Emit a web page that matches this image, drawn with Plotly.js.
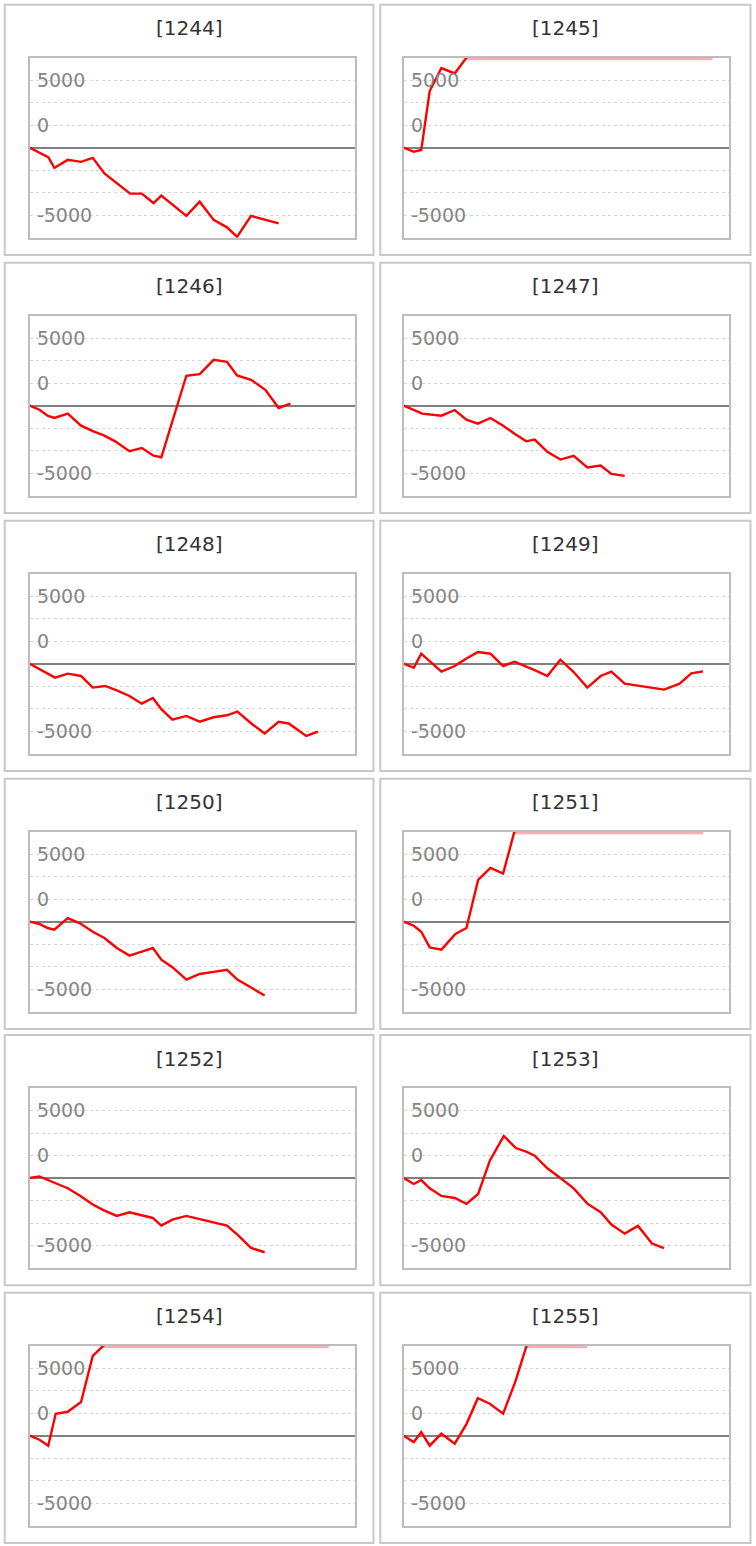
<!DOCTYPE html>
<html><head><meta charset="utf-8">
<script src="https://cdn.plot.ly/plotly-3.0.1.min.js"></script>
<style>html,body{margin:0;padding:0;background:#fff;} #chart{width:756px;height:1546px;}</style>
</head><body><div id="chart"></div>
<script>
// Panel names
const codes = ['1244','1245','1246','1247','1248','1249','1250','1251','1252','1253','1254','1255'];

// Y axis ticks (gridlines) and labels as drawn in the reference
const tickValues = [-5000, -3333.33, -1666.67, 0, 1666.67, 3333.33, 5000];
const tickLabels = ['-5000', '', '', '', '0', '', '5000'];
const yLow = -6666.67, yHigh = 6666.67;

// Series values (x = position along period, 0..100)
const x1244 = [0, 5.7, 7.6, 11.7, 15.8, 19.4, 23.0, 26.8, 30.9, 34.5, 38.1, 40.5, 44.3, 48.2, 52.3, 56.6, 60.7, 63.8, 68.1, 76.6];
const y1244 = [0, -700, -1500, -900, -1050, -750, -1900, -2650, -3400, -3400, -4100, -3550, -4300, -5050, -4000, -5350, -5900, -6600, -5050, -5600];

const x1245 = [0, 3.1, 5.4, 8.0, 11.6, 15.7, 22.8, 34.1, 48.2, 68.0, 95.0];
const y1245 = [0, -300, -170, 4200, 5900, 5500, 7800, 9200, 10400, 11600, 12500];

const x1246 = [0, 3.0, 5.5, 7.6, 11.7, 15.8, 19.6, 23.0, 26.3, 30.7, 34.5, 38.1, 40.5, 44.3, 48.2, 52.3, 56.6, 60.7, 63.8, 68.1, 72.5, 76.6, 80.2];
const y1246 = [0, -300, -740, -910, -590, -1480, -1900, -2220, -2640, -3370, -3130, -3700, -3820, -840, 2220, 2340, 3400, 3250, 2240, 1920, 1180, -170, 150];

const x1247 = [0, 2.4, 5.7, 11.6, 15.7, 19.3, 22.8, 26.7, 30.6, 34.1, 37.7, 40.3, 44.2, 48.2, 52.3, 56.5, 60.6, 63.9, 68.0];
const y1247 = [0, -250, -590, -740, -320, -1030, -1330, -910, -1480, -2070, -2640, -2510, -3420, -3990, -3720, -4580, -4430, -5050, -5200];

const x1248 = [0, 7.8, 11.7, 15.8, 19.4, 23.2, 26.8, 30.7, 34.5, 37.9, 40.5, 43.9, 48.2, 52.3, 56.6, 60.7, 63.9, 68.1, 72.3, 76.6, 79.7, 85.1, 88.7];
const y1248 = [0, -1030, -740, -910, -1770, -1650, -1970, -2390, -2960, -2540, -3370, -4140, -3870, -4290, -3970, -3820, -3550, -4410, -5170, -4310, -4430, -5350, -5030];

const x1249 = [0, 3.1, 5.4, 11.6, 15.7, 19.3, 22.8, 26.7, 30.6, 34.1, 37.7, 40.3, 44.2, 48.2, 52.3, 56.5, 60.6, 63.9, 68.0, 80.1, 84.9, 88.5, 92.1];
const y1249 = [0, -300, 740, -590, -170, 390, 860, 740, -170, 150, -220, -470, -910, 300, -620, -1770, -910, -590, -1480, -1920, -1480, -710, -570];

const x1250 = [0, 3.0, 5.5, 7.6, 11.7, 15.5, 19.4, 23.0, 26.8, 30.7, 34.5, 37.9, 40.5, 43.9, 48.2, 52.3, 56.6, 60.7, 63.9, 68.1, 72.3];
const y1250 = [0, -170, -470, -590, 270, -120, -740, -1210, -1950, -2510, -2220, -1950, -2810, -3370, -4290, -3870, -3720, -3570, -4290, -4880, -5470];

const x1251 = [0, 3.1, 5.4, 8.0, 11.6, 15.9, 19.3, 22.9, 26.7, 30.6, 34.2, 44.2, 60.6, 76.4, 92.1];
const y1251 = [0, -300, -740, -1900, -2070, -910, -470, 3100, 3990, 3570, 6800, 8500, 9900, 11000, 11800];

const x1252 = [0, 3.0, 7.8, 11.7, 15.5, 19.4, 23.0, 26.8, 30.7, 34.5, 37.9, 40.5, 43.9, 48.2, 52.3, 56.6, 60.7, 63.9, 68.1, 72.3];
const y1252 = [0, 120, -370, -760, -1310, -1970, -2420, -2810, -2540, -2760, -2960, -3530, -3080, -2810, -3030, -3280, -3530, -4190, -5180, -5500];

const x1253 = [0, 3.1, 5.4, 8.0, 11.6, 15.7, 19.3, 22.9, 26.5, 30.8, 34.5, 37.7, 40.3, 44.2, 48.2, 52.3, 56.5, 60.6, 63.9, 68.0, 72.1, 76.4, 80.1];
const y1253 = [0, -440, -150, -760, -1330, -1480, -1920, -1180, 1280, 3110, 2220, 1950, 1650, 720, 0, -770, -1900, -2540, -3450, -4120, -3550, -4860, -5200];

const x1254 = [0, 3.0, 5.7, 8.0, 11.7, 15.8, 19.4, 23.0, 34.5, 48.2, 68.1, 92.0];
const y1254 = [0, -300, -740, 1630, 1770, 2490, 5910, 6750, 8200, 9400, 10500, 11200];

const x1255 = [0, 3.1, 5.4, 8.0, 11.6, 15.7, 19.3, 22.8, 26.5, 30.6, 34.4, 38.1, 44.2, 56.5];
const y1255 = [0, -470, 270, -740, 150, -590, 860, 2780, 2370, 1630, 4040, 6900, 8500, 9800];

const seriesX = [x1244, x1245, x1246, x1247, x1248, x1249, x1250, x1251, x1252, x1253, x1254, x1255];
const seriesY = [y1244, y1245, y1246, y1247, y1248, y1249, y1250, y1251, y1252, y1253, y1254, y1255];

// ---- layout geometry (pixels) ----
const W = 756, H = 1546;
const rowTops = [57.7, 315.7, 573.7, 831.7, 1088, 1345.7];
const colLefts = [29.7, 403.7];
const plotW = 325, plotH = 180;
const panelX = [[4.7, 373.5], [380.3, 750.5]];

// part of a series beyond the top of the axis, drawn along the top edge
function overflowPath(xs, ys, top) {
  const px = [], py = [];
  for (let k = 0; k < ys.length; k++) {
    if (ys[k] >= top) {
      if (k > 0 && ys[k-1] < top) {
        const t = (top - ys[k-1]) / (ys[k] - ys[k-1]);
        px.push(xs[k-1] + t * (xs[k] - xs[k-1])); py.push(top);
      }
      px.push(xs[k]); py.push(top);
    }
  }
  return [px, py];
}

const traces = [];
const layout = {
  width: W, height: H,
  margin: {l: 0, r: 0, t: 0, b: 0},
  paper_bgcolor: '#ffffff', plot_bgcolor: '#ffffff',
  showlegend: false,
  shapes: [], annotations: []
};

codes.forEach((code, i) => {
  const n = i === 0 ? '' : String(i + 1);
  const row = Math.floor(i / 2), col = i % 2;
  const top = rowTops[row], left = colLefts[col];
  const [ox, oy] = overflowPath(seriesX[i], seriesY[i], yHigh);
  if (ox.length) {
    traces.push({x: ox, y: oy, xaxis: 'x' + n, yaxis: 'y' + n, type: 'scatter', mode: 'lines',
      line: {color: 'rgba(240,150,150,0.75)', width: 5}, hoverinfo: 'skip'});
  }
  traces.push({x: seriesX[i], y: seriesY[i], xaxis: 'x' + n, yaxis: 'y' + n, type: 'scatter', mode: 'lines',
    line: {color: '#ff0000', width: 2.4}, name: code});

  layout['xaxis' + n] = {
    domain: [left / W, (left + plotW) / W], range: [0, 100], anchor: 'y' + n,
    showgrid: false, zeroline: false, showticklabels: false, ticks: '',
    showline: true, mirror: true, linecolor: '#bdbdbd', linewidth: 2, fixedrange: true
  };
  layout['yaxis' + n] = {
    domain: [1 - (top + plotH) / H, 1 - top / H], range: [yLow, yHigh], anchor: 'x' + n,
    tickmode: 'array', tickvals: tickValues, ticktext: tickLabels,
    ticklabelposition: 'inside', ticks: '', ticklabelstandoff: 8,
    tickfont: {family: 'DejaVu Sans', size: 19, color: '#858585'},
    showgrid: true, gridcolor: '#d6d6d6', gridwidth: 1, griddash: '3px,3px',
    zeroline: true, zerolinecolor: '#808080', zerolinewidth: 2,
    showline: true, mirror: true, linecolor: '#bdbdbd', linewidth: 2, fixedrange: true
  };
  const pTop = top - 53, pBot = top + 197.3;
  layout.shapes.push({type: 'rect', xref: 'paper', yref: 'paper',
    x0: panelX[col][0] / W, x1: panelX[col][1] / W, y0: 1 - pBot / H, y1: 1 - pTop / H,
    line: {color: '#c8c8c8', width: 2}, fillcolor: 'rgba(0,0,0,0)', layer: 'below'});
  layout.annotations.push({xref: 'paper', yref: 'paper',
    x: (panelX[col][0] + panelX[col][1]) / 2 / W, y: 1 - (top - 29.5) / H,
    xanchor: 'center', yanchor: 'middle', showarrow: false,
    text: '[' + code + ']', font: {family: 'DejaVu Sans', size: 20, color: '#333333'}});
});

Plotly.newPlot('chart', traces, layout, {displayModeBar: false, staticPlot: true});
</script>
</body></html>
